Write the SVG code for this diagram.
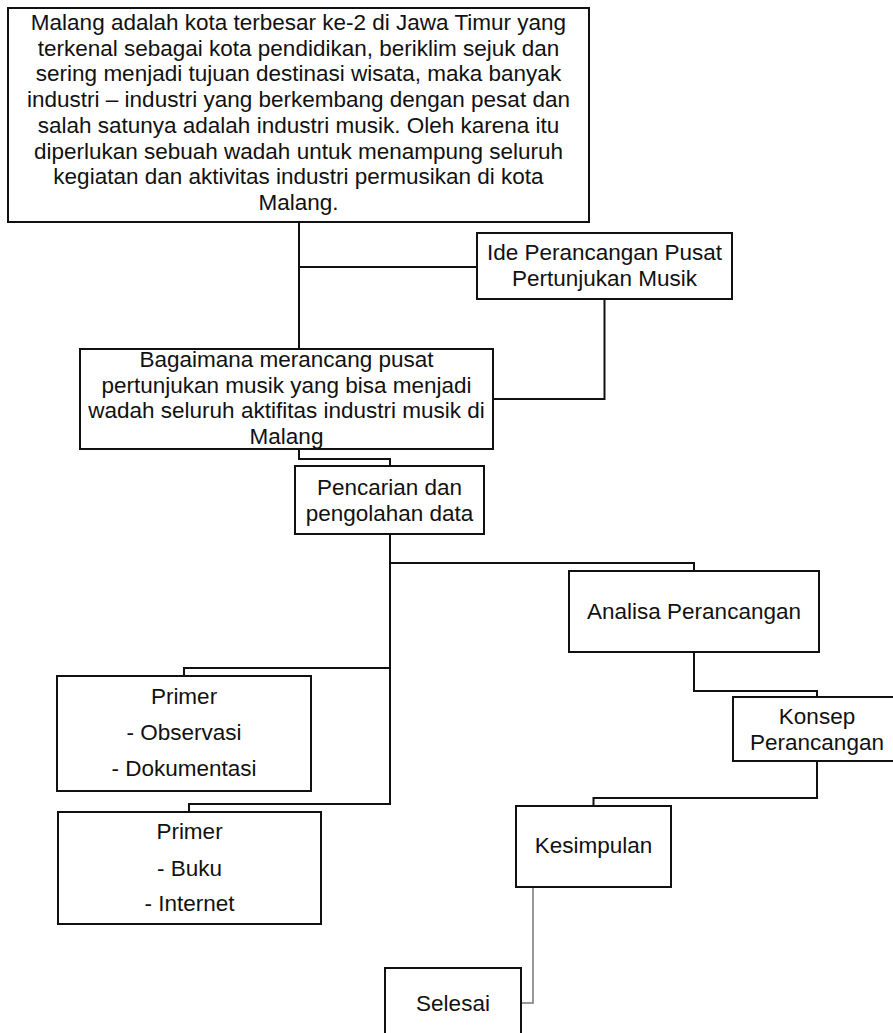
<svg xmlns="http://www.w3.org/2000/svg" width="893" height="1033" viewBox="0 0 893 1033">
<style>
.box{fill:#fff;stroke:#111;stroke-width:2}
.t{font-family:"Liberation Sans",Arial,sans-serif;font-size:22.5px;fill:#111;text-anchor:middle}
.c{fill:none;stroke:#111;stroke-width:2}
.g{fill:none;stroke:#777;stroke-width:1.5}
</style>
<rect width="893" height="1033" fill="#fff"/>
<g id="connectors">
<path class="c" d="M299 222V349M299 267H477"/>
<path class="c" d="M604.5 299V399H493"/>
<path class="c" d="M299 449V459H390V466"/>
<path class="c" d="M390 534V804H189V812"/>
<path class="c" d="M390 563H694V571"/>
<path class="c" d="M390 668H184V676"/>
<path class="c" d="M694 652V691H817V697"/>
<path class="c" d="M817 761V798H593.5V806"/>
<path class="g" d="M533 887V1003H521"/>
</g>
<g id="n-latar">
<rect class="box" x="8" y="8" width="581" height="214"/>
<text class="t" x="298.5" y="30">Malang adalah kota terbesar ke-2 di Jawa Timur yang</text>
<text class="t" x="298.5" y="55.7">terkenal sebagai kota pendidikan, beriklim sejuk dan</text>
<text class="t" x="298.5" y="81.4">sering menjadi tujuan destinasi wisata, maka banyak</text>
<text class="t" x="298.5" y="107">industri – industri yang berkembang dengan pesat dan</text>
<text class="t" x="298.5" y="132.8">salah satunya adalah industri musik. Oleh karena itu</text>
<text class="t" x="298.5" y="158.5">diperlukan sebuah wadah untuk menampung seluruh</text>
<text class="t" x="298.5" y="184.2">kegiatan dan aktivitas industri permusikan di kota</text>
<text class="t" x="298.5" y="210">Malang.</text>
</g>
<g id="n-ide">
<rect class="box" x="477" y="233" width="255" height="66"/>
<text class="t" x="604.5" y="260">Ide Perancangan Pusat</text>
<text class="t" x="604.5" y="285.5">Pertunjukan Musik</text>
</g>
<g id="n-rumusan">
<rect class="box" x="80" y="349" width="413" height="100"/>
<text class="t" x="286.5" y="367">Bagaimana merancang pusat</text>
<text class="t" x="286.5" y="392.5">pertunjukan musik yang bisa menjadi</text>
<text class="t" x="286.5" y="418">wadah seluruh aktifitas industri musik di</text>
<text class="t" x="286.5" y="443.5">Malang</text>
</g>
<g id="n-pencarian">
<rect class="box" x="295" y="466" width="189" height="68"/>
<text class="t" x="389.5" y="495">Pencarian dan</text>
<text class="t" x="389.5" y="520.5">pengolahan data</text>
</g>
<g id="n-analisa">
<rect class="box" x="569" y="571" width="250" height="81"/>
<text class="t" x="694" y="619">Analisa Perancangan</text>
</g>
<g id="n-primer1">
<rect class="box" x="57" y="676" width="254" height="115"/>
<text class="t" x="184" y="704">Primer</text>
<text class="t" x="184" y="740">- Observasi</text>
<text class="t" x="184" y="776">- Dokumentasi</text>
</g>
<g id="n-konsep">
<rect class="box" x="733" y="697" width="168" height="64"/>
<text class="t" x="817" y="724">Konsep</text>
<text class="t" x="817" y="749.5">Perancangan</text>
</g>
<g id="n-kesimpulan">
<rect class="box" x="516" y="806" width="155" height="81"/>
<text class="t" x="593.5" y="853">Kesimpulan</text>
</g>
<g id="n-primer2">
<rect class="box" x="58" y="812" width="263" height="112"/>
<text class="t" x="189.5" y="839">Primer</text>
<text class="t" x="189.5" y="876">- Buku</text>
<text class="t" x="189.5" y="911">- Internet</text>
</g>
<g id="n-selesai">
<rect class="box" x="385" y="968" width="136" height="80"/>
<text class="t" x="453" y="1011">Selesai</text>
</g>
</svg>
